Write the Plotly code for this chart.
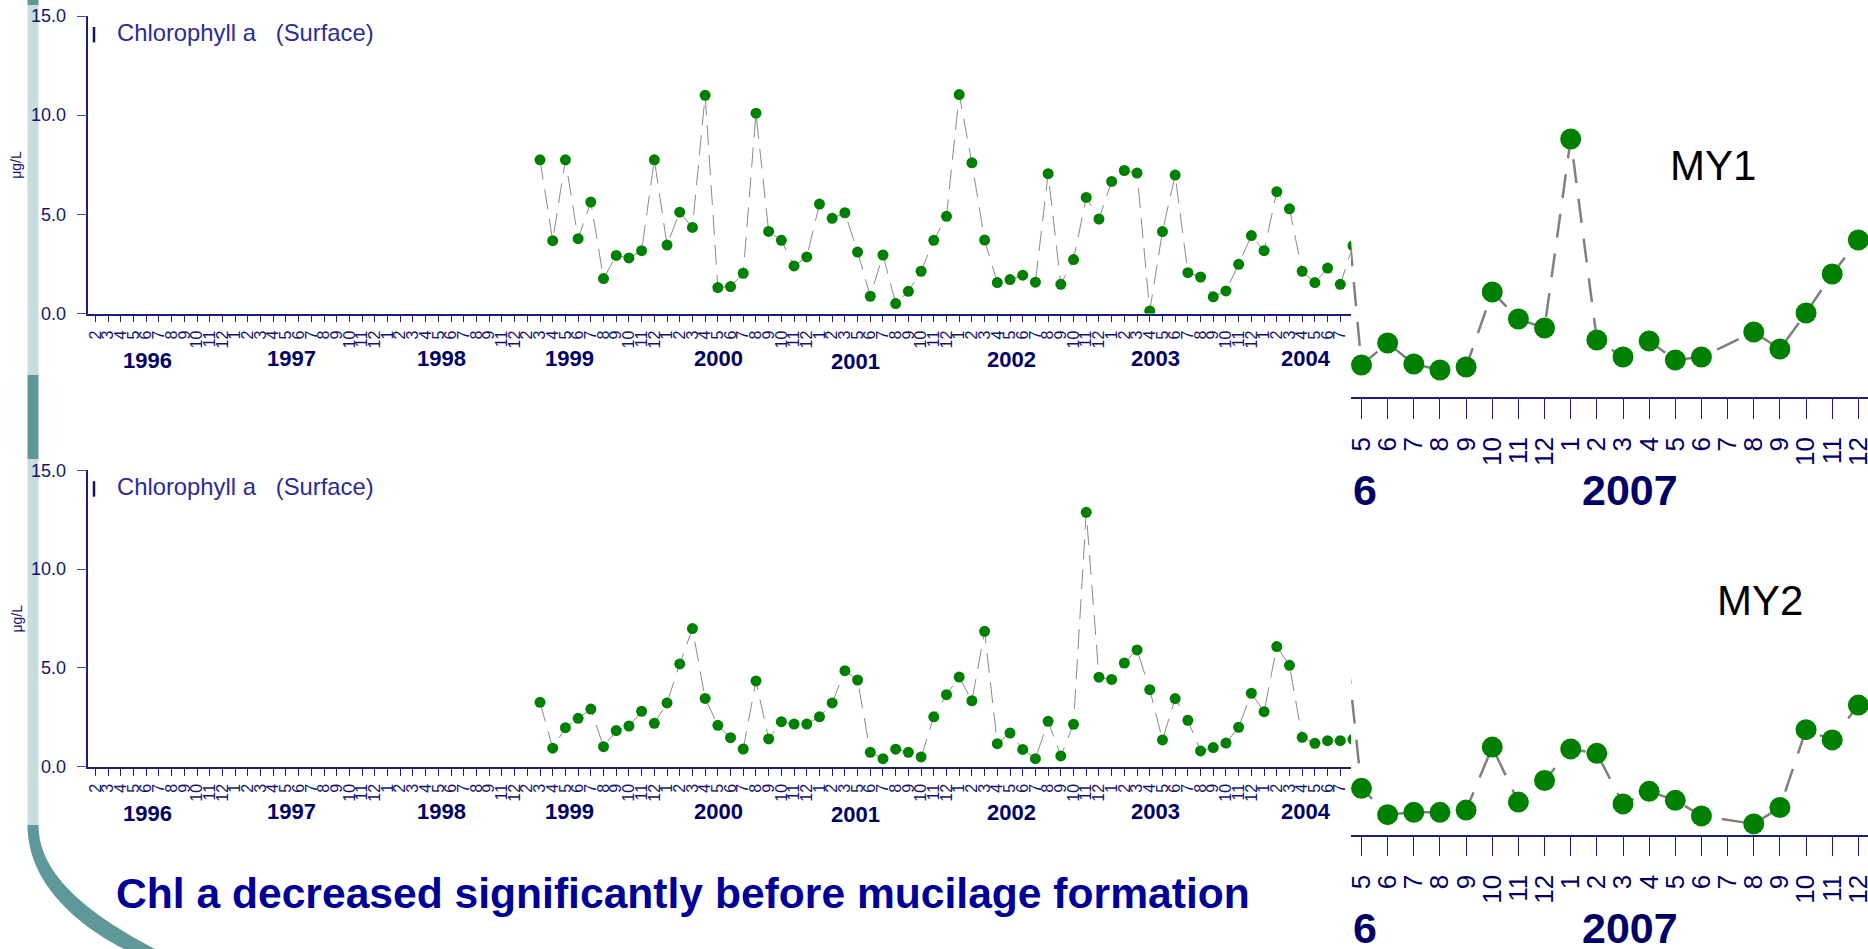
import plotly.graph_objects as go

W, H = 1868, 949

# ---------------------------------------------------------------- data
# Sampling-month tick labels of the long record, Feb 1996 - Aug 2004
ticks_1996 = ["2", "3", "4", "5", "6", "7", "8", "9", "10", "11", "12"]
ticks_1997 = ["1", "2", "3", "4", "5", "6", "7", "8", "9", "10", "11", "12"]
ticks_1998 = ["1", "2", "3", "4", "5", "6", "7", "8", "9", "11", "12"]
ticks_1999 = ["2", "3", "4", "5", "6", "7", "8", "9", "10", "11", "12"]
ticks_2000 = ["1", "2", "3", "4", "5", "6", "7", "8", "9", "10", "11", "12"]
ticks_2001 = ["1", "2", "3", "5", "6", "7", "8", "9", "10", "11", "12"]
ticks_2002 = ["1", "2", "3", "4", "5", "6", "7", "8", "9", "10", "11", "12"]
ticks_2003 = ["1", "2", "3", "4", "5", "6", "7", "8", "9", "10", "11", "12"]
ticks_2004 = ["1", "2", "3", "4", "5", "6", "7", "8"]
month_ticks = (ticks_1996 + ticks_1997 + ticks_1998 + ticks_1999 + ticks_2000
               + ticks_2001 + ticks_2002 + ticks_2003 + ticks_2004)

years = ["1996", "1997", "1998", "1999", "2000", "2001", "2002", "2003", "2004"]

# first sample: March 1999 (tick index 35)
first_sample = 35

# Chlorophyll a, surface (ug/L), upper station
chl_upper = [7.75, 3.67, 7.75, 3.77, 5.62, 1.76, 2.93, 2.80, 3.17, 7.75,
             3.45, 5.11, 4.34, 11.00, 1.31, 1.36, 2.03, 10.10, 4.14, 3.69,
             2.40, 2.85, 5.52, 4.80, 5.08, 3.10, 0.87, 2.95, 0.50, 1.12,
             2.13, 3.69, 4.90, 11.04, 7.60, 3.70, 1.56, 1.71, 1.93, 1.58,
             7.05, 1.47, 2.72, 5.85, 4.76, 6.66, 7.21, 7.08, 0.13, 4.13,
             6.98, 2.06, 1.84, 0.84, 1.14, 2.48, 3.93, 3.17, 6.14, 5.28,
             2.13, 1.56, 2.29, 1.47, 3.42]

# Chlorophyll a, surface (ug/L), lower station
chl_lower = [3.26, 0.94, 1.98, 2.45, 2.92, 1.02, 1.83, 2.06, 2.81, 2.20,
             3.23, 5.20, 6.99, 3.46, 2.10, 1.47, 0.90, 4.34, 1.41, 2.28,
             2.16, 2.16, 2.53, 3.23, 4.86, 4.39, 0.73, 0.41, 0.89, 0.73,
             0.50, 2.53, 3.65, 4.54, 3.34, 6.85, 1.17, 1.71, 0.88, 0.41,
             2.30, 0.55, 2.15, 12.87, 4.53, 4.42, 5.25, 5.91, 3.90, 1.36,
             3.45, 2.35, 0.80, 0.97, 1.20, 2.00, 3.72, 2.79, 6.08, 5.13,
             1.49, 1.19, 1.32, 1.32, 1.39]

# Recent record, May 2006 - Dec 2007 (index 0 = May 2006, -1 = Apr 2006)
my_month_ticks = ["5", "6", "7", "8", "9", "10", "11", "12",
                  "1", "2", "3", "4", "5", "6", "7", "8", "9", "10", "11", "12"]
my_months = [-1, 0, 1, 2, 3, 4, 5, 6, 7, 8, 9, 10, 11, 12, 13, 15, 16, 17, 18, 19]
chl_my1 = [15.7, 1.60, 2.70, 1.65, 1.35, 1.50, 5.25, 3.90, 3.45, 12.9,
           2.85, 2.00, 2.80, 1.85, 2.00, 3.25, 2.40, 4.20, 6.15, 7.85]
chl_my2 = [14.7, 2.32, 1.00, 1.12, 1.12, 1.23, 4.38, 1.63, 2.71, 4.29,
           4.07, 1.54, 2.17, 1.72, 0.94, 0.54, 1.36, 5.25, 4.74, 6.48]

# ---------------------------------------------------------------- helpers
def fx(px):
    return px / W


def fy(py):
    return 1 - py / H


FONT = "Liberation Sans, Arial, sans-serif"
NAVY = "#1c1c7c"
TXT = "#14146e"
YEARC = "#000066"
GREEN = "#008000"

# pixel frame of the panels
LEFT_X0, LEFT_X1 = 88.4, 1351
TICK0_PX, TICK_STEP = 95.4, 12.703
UP_Y0, UP_Y15 = 313.5, 16.0
LO_Y0, LO_Y15 = 766.8, 470.2
MY_X0 = 1351
MY_T0, MY_STEP = 1361.5, 26.15
MY1_AX, MY2_AX = 397.0, 834.7
PX_PER_UNIT_MY = 20.0

left_range = [(LEFT_X0 - TICK0_PX) / TICK_STEP, (LEFT_X1 - TICK0_PX) / TICK_STEP]
my_range = [(MY_X0 - MY_T0) / MY_STEP, (W - MY_T0) / MY_STEP]

sample_x = list(range(first_sample, first_sample + len(chl_upper)))

fig = go.Figure()

# long-record panels
for vals, xa, ya in ((chl_upper, "x", "y"), (chl_lower, "x2", "y2")):
    fig.add_trace(go.Scatter(
        x=sample_x, y=vals, xaxis=xa, yaxis=ya, mode="lines+markers",
        line=dict(color="#8a8a8a", width=1, dash="20px,10px"),
        marker=dict(color=GREEN, size=11),
        cliponaxis=True, showlegend=False, hoverinfo="x+y"))

# recent-record panels
for vals, xa, ya in ((chl_my1, "x3", "y3"), (chl_my2, "x4", "y4")):
    fig.add_trace(go.Scatter(
        x=my_months, y=vals, xaxis=xa, yaxis=ya, mode="lines+markers",
        line=dict(color="#808080", width=2.5, dash="24px,16px"),
        marker=dict(color=GREEN, size=21),
        cliponaxis=True, showlegend=False, hoverinfo="x+y"))

left_x = dict(
    range=left_range, domain=[fx(LEFT_X0), fx(LEFT_X1)],
    tickmode="array", tickvals=list(range(len(month_ticks))), ticktext=month_ticks,
    tickangle=-90, ticks="outside", ticklen=7, tickwidth=1, tickcolor=NAVY,
    tickfont=dict(family=FONT, size=16, color=TXT), ticklabelstandoff=2,
    showline=True, linecolor=NAVY, linewidth=1.5,
    showgrid=False, zeroline=False, automargin=False, fixedrange=True)

left_y = dict(
    range=[0, 15], tickmode="array", tickvals=[0, 5, 10, 15],
    ticktext=["0.0", "5.0", "10.0", "15.0"],
    ticks="outside", ticklen=10, tickwidth=1.2, tickcolor="#4a4a9e",
    tickfont=dict(family=FONT, size=18, color=TXT), ticklabelstandoff=7,
    showline=True, linecolor=NAVY, linewidth=1.5,
    showgrid=False, zeroline=False, automargin=False, fixedrange=True)

my_x = dict(
    range=my_range, domain=[fx(MY_X0), 1.0],
    tickmode="array", tickvals=list(range(len(my_month_ticks))), ticktext=my_month_ticks,
    tickangle=-90, ticks="outside", ticklen=20, tickwidth=1.2, tickcolor=NAVY,
    tickfont=dict(family=FONT, size=26, color=YEARC), ticklabelstandoff=8,
    ticklabeloverflow="allow",
    showline=True, linecolor=NAVY, linewidth=1.5,
    showgrid=False, zeroline=False, automargin=False, fixedrange=True)

my1_top, my2_top = 100.0, 520.0

fig.update_layout(
    width=W, height=H, autosize=False,
    margin=dict(l=0, r=0, t=0, b=0, pad=0),
    paper_bgcolor="white", plot_bgcolor="rgba(0,0,0,0)",
    showlegend=False,
    xaxis=dict(left_x, anchor="y"),
    yaxis=dict(left_y, anchor="x", domain=[fy(UP_Y0), fy(UP_Y15)]),
    xaxis2=dict(left_x, anchor="y2"),
    yaxis2=dict(left_y, anchor="x2", domain=[fy(LO_Y0), fy(LO_Y15)]),
    xaxis3=dict(my_x, anchor="y3"),
    yaxis3=dict(anchor="x3", domain=[fy(MY1_AX), fy(my1_top)],
                range=[0, (MY1_AX - my1_top) / PX_PER_UNIT_MY], visible=False,
                fixedrange=True),
    xaxis4=dict(my_x, anchor="y4"),
    yaxis4=dict(anchor="x4", domain=[fy(MY2_AX), fy(my2_top)],
                range=[0, (MY2_AX - my2_top) / PX_PER_UNIT_MY], visible=False,
                fixedrange=True),
)

ann = []
shapes = []

# panel titles, unit labels and year labels of the long record
year_pos = [4.14, 15.45, 27.28, 37.36, 49.04, 59.8, 72.13, 83.47, 95.3]
year_drop = [46.5, 44.5, 44.5, 44.5, 45.0, 48.0, 46.0, 44.5, 44.5]
for xa, y0, y15 in (("x", UP_Y0, UP_Y15), ("x2", LO_Y0, LO_Y15)):
    ann.append(dict(
        text="Chlorophyll a\u00a0\u00a0\u00a0(Surface)", xref="paper", yref="paper",
        x=fx(115), y=fy(y15 + 16), xanchor="left", yanchor="middle",
        showarrow=False, font=dict(family=FONT, size=23.8, color="#2b2b96")))
    shapes.append(dict(type="line", xref="paper", yref="paper",
                       x0=fx(94), x1=fx(94), y0=fy(y15 + 11), y1=fy(y15 + 26.5),
                       line=dict(color="#12126e", width=2.5)))
    ann.append(dict(
        text="\u03bcg/L", xref="paper", yref="paper", x=fx(16), y=fy((y0 + y15) / 2),
        xanchor="center", yanchor="middle", textangle=-90, showarrow=False,
        font=dict(family=FONT, size=14, color=TXT)))
    for yr, pos, drop in zip(years, year_pos, year_drop):
        ann.append(dict(
            text="<b>%s</b>" % yr, xref=xa, yref="paper", x=pos, y=fy(y0 + drop),
            xanchor="center", yanchor="middle", showarrow=False,
            font=dict(family=FONT, size=22, color=YEARC)))

# recent-record labels
for name, nx, ny, ax_px in (("MY1", 1713, 165, MY1_AX), ("MY2", 1760, 600, MY2_AX)):
    ann.append(dict(text=name, xref="paper", yref="paper", x=fx(nx), y=fy(ny),
                    xanchor="center", yanchor="middle", showarrow=False,
                    font=dict(family=FONT, size=42, color="black")))
    ann.append(dict(text="<b>6</b>", xref="paper", yref="paper", x=fx(1365),
                    y=fy(ax_px + 93), xanchor="center", yanchor="middle",
                    showarrow=False, font=dict(family=FONT, size=43, color=YEARC)))
    ann.append(dict(text="<b>2007</b>", xref="paper", yref="paper", x=fx(1630),
                    y=fy(ax_px + 93), xanchor="center", yanchor="middle",
                    showarrow=False, font=dict(family=FONT, size=43, color=YEARC)))

# headline
ann.append(dict(
    text="<b>Chl a decreased significantly before mucilage formation</b>",
    xref="paper", yref="paper", x=fx(114), y=fy(893), xanchor="left",
    yanchor="middle", showarrow=False,
    font=dict(family=FONT, size=42.6, color="#000099")))

# slide decoration: vertical band bending into an arc at the bottom
LIGHT, DARK = "#c8dede", "#5f9898"
for y_a, y_b, col in ((0, 5, DARK), (5, 375, LIGHT), (375, 459, DARK), (459, 826, LIGHT)):
    shapes.append(dict(type="rect", xref="paper", yref="paper", layer="below",
                       x0=fx(27.5), x1=fx(38.5), y0=fy(y_b), y1=fy(y_a),
                       fillcolor=col, line=dict(width=0)))


def pt(p):
    return "%.5f,%.5f" % (fx(p[0]), fy(p[1]))


arc = ("M " + pt((27.5, 825)) + " C " + pt((27.5, 880)) + " " + pt((72, 922)) + " "
       + pt((124, 949)) + " L " + pt((155, 949)) + " C " + pt((96, 918)) + " "
       + pt((38.5, 878)) + " " + pt((38.5, 825)) + " Z")
shapes.append(dict(type="path", xref="paper", yref="paper", layer="below", path=arc,
                   fillcolor=DARK, line=dict(width=0)))

fig.update_layout(annotations=ann, shapes=shapes)

fig.write_html("out.html")
